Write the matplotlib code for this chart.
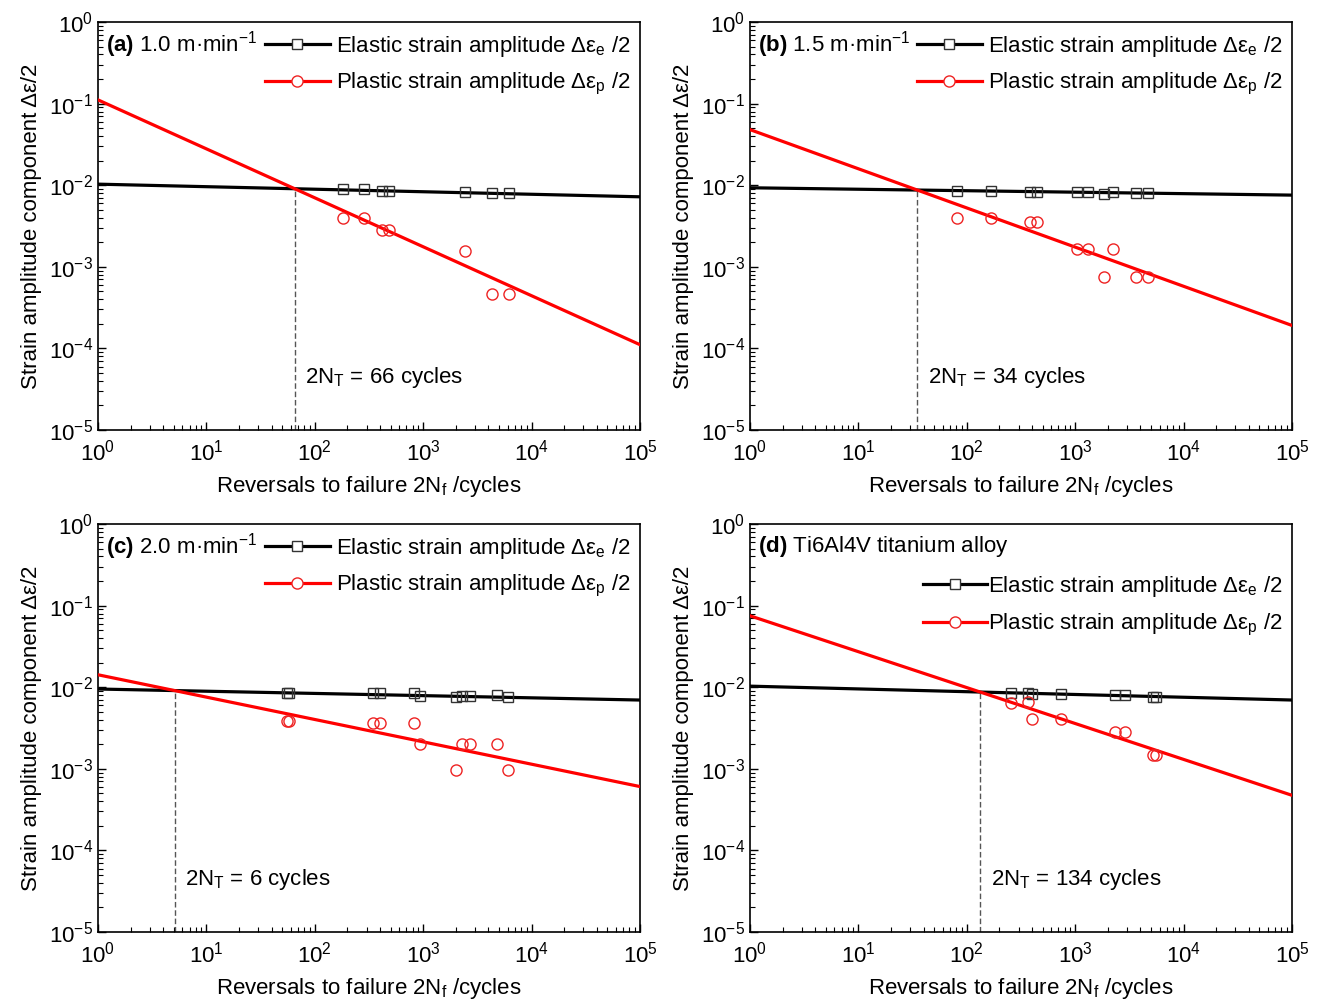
import numpy as np
import matplotlib
matplotlib.use("Agg")
import matplotlib.pyplot as plt

plt.rcParams['font.family'] = ['Liberation Sans', 'DejaVu Sans']
plt.rcParams['mathtext.fontset'] = 'custom'
plt.rcParams['mathtext.rm'] = 'Liberation Sans'
plt.rcParams['mathtext.it'] = 'Liberation Sans:italic'
plt.rcParams['mathtext.bf'] = 'Liberation Sans:bold'
plt.rcParams['mathtext.default'] = 'regular'

# panel titles
tags = ['(a)', '(b)', '(c)', '(d)']
subtitles = [' 1.0 m·min$^{-1}$', ' 1.5 m·min$^{-1}$', ' 2.0 m·min$^{-1}$', ' Ti6Al4V titanium alloy']
transition = [66, 34, 6, 134]

# fitted lines: amplitude = coef * (2Nf)^exp
el_coef = [0.0103, 0.0093, 0.0095, 0.0103]
el_exp = [-0.031, -0.018, -0.027, -0.034]
pl_coef = [0.111, 0.048, 0.0142, 0.075]
pl_exp = [-0.60, -0.48, -0.274, -0.44]

# test points (reversals, elastic, plastic)
rev_a = [182, 284, 417, 482, 2440, 4300, 6200]
el_a = [0.0090, 0.0090, 0.0086, 0.0086, 0.0082, 0.0080, 0.0080]
pl_a = [0.0040, 0.0040, 0.0028, 0.0028, 0.00156, 0.00046, 0.00046]

rev_b = [81, 167, 383, 444, 1040, 1310, 1850, 2230, 3640, 4700]
el_b = [0.0085, 0.0085, 0.0082, 0.0082, 0.0082, 0.0082, 0.0079, 0.0082, 0.0080, 0.0080]
pl_b = [0.0040, 0.0040, 0.0035, 0.0035, 0.00166, 0.00166, 0.00075, 0.00166, 0.00075, 0.00075]

rev_c = [55, 58, 345, 400, 826, 935, 2000, 2290, 2700, 4800, 6050]
el_c = [0.0085, 0.0085, 0.0084, 0.0084, 0.0085, 0.0077, 0.0076, 0.0079, 0.0079, 0.0081, 0.0076]
pl_c = [0.0039, 0.0039, 0.0036, 0.0036, 0.0036, 0.0020, 0.00097, 0.0020, 0.0020, 0.0020, 0.00097]

rev_d = [256, 365, 400, 740, 2330, 2880, 5240, 5600]
el_d = [0.0085, 0.0085, 0.0083, 0.0083, 0.0081, 0.0081, 0.0076, 0.0076]
pl_d = [0.0064, 0.0066, 0.0041, 0.0041, 0.0028, 0.0028, 0.00148, 0.00148]

revs = [rev_a, rev_b, rev_c, rev_d]
els = [el_a, el_b, el_c, el_d]
pls = [pl_a, pl_b, pl_c, pl_d]

fig = plt.figure(figsize=(13.21, 10.02), dpi=100)
W, H = 1321, 1002
boxes = [(98, 22, 640, 430), (750, 22, 1292, 430), (98, 524, 640, 932), (750, 524, 1292, 932)]

fs = 16
xx = np.logspace(0, 5, 200)
for i in range(4):
    l, t, r, b = boxes[i]
    ax = fig.add_axes([l / W, 1 - b / H, (r - l) / W, (b - t) / H])
    ax.set_xscale('log')
    ax.set_yscale('log')
    ax.set_xlim(1, 1e5)
    ax.set_ylim(1e-5, 1)

    ax.plot(xx, el_coef[i] * xx ** el_exp[i], color='black', lw=2.3, zorder=3)
    ax.plot(xx, pl_coef[i] * xx ** pl_exp[i], color='#ff0000', lw=2.3, zorder=3)
    ax.plot(revs[i], els[i], 's', ms=7, mfc='none', mec='#333333', mew=1.0, zorder=4)
    ax.plot(revs[i], pls[i], 'o', ms=8, mfc='none', mec='#ee2222', mew=1.0, zorder=4)

    # dashed drop line at the crossing of the two fits
    nx = (el_coef[i] / pl_coef[i]) ** (1.0 / (pl_exp[i] - el_exp[i]))
    ax.plot([nx, nx], [1e-5, el_coef[i] * nx ** el_exp[i]], color='#555555', lw=1.0, ls=(0, (4, 2)), zorder=2)
    ax.text(nx * 1.25, 4.4e-5, '2N$_T$ = %d cycles' % transition[i], fontsize=fs, va='center', ha='left')

    # legend proxies
    h1, = ax.plot([], [], color='black', lw=2.3, marker='s', ms=7, mfc='white', mec='#333333', mew=1.0)
    h2, = ax.plot([], [], color='#ff0000', lw=2.3, marker='o', ms=8, mfc='white', mec='#ee2222', mew=1.0)
    labels = ['Elastic strain amplitude Δε$_e$ /2', 'Plastic strain amplitude Δε$_p$ /2']
    if i < 3:
        ax.legend([h1, h2], labels, loc='upper right', bbox_to_anchor=(1.0, 0.993),
                  frameon=False, fontsize=fs, handlelength=2.9, handletextpad=0.3,
                  labelspacing=0.55, borderaxespad=0.0, numpoints=1)
    else:
        ax.legend([h1, h2], labels, loc='upper right', bbox_to_anchor=(1.0, 0.9),
                  frameon=False, fontsize=fs, handlelength=2.9, handletextpad=0.05,
                  labelspacing=0.6, borderaxespad=0.0, numpoints=1)

    ax.text(0.015, 0.945, r'$\mathbf{%s}$%s' % (tags[i], subtitles[i]), transform=ax.transAxes,
            fontsize=fs, va='center', ha='left')

    ax.tick_params(which='both', direction='in', top=False, right=False, labelsize=fs)
    ax.tick_params(which='major', length=6, width=1.0)
    ax.tick_params(which='minor', length=3.5, width=0.8)
    ax.xaxis.set_major_locator(matplotlib.ticker.LogLocator(base=10, numticks=10))
    ax.xaxis.set_minor_locator(matplotlib.ticker.LogLocator(base=10, subs=np.arange(2, 10), numticks=20))
    ax.yaxis.set_major_locator(matplotlib.ticker.LogLocator(base=10, numticks=10))
    ax.yaxis.set_minor_locator(matplotlib.ticker.LogLocator(base=10, subs=np.arange(2, 10), numticks=20))
    for s in ax.spines.values():
        s.set_linewidth(1.2)
    ax.tick_params(axis='x', pad=7)
    ax.set_xlabel('Reversals to failure 2N$_f$ /cycles', fontsize=fs, labelpad=6)
    ax.set_ylabel('Strain amplitude component Δε/2', fontsize=fs, labelpad=5)

fig.savefig('out.png', dpi=100)
